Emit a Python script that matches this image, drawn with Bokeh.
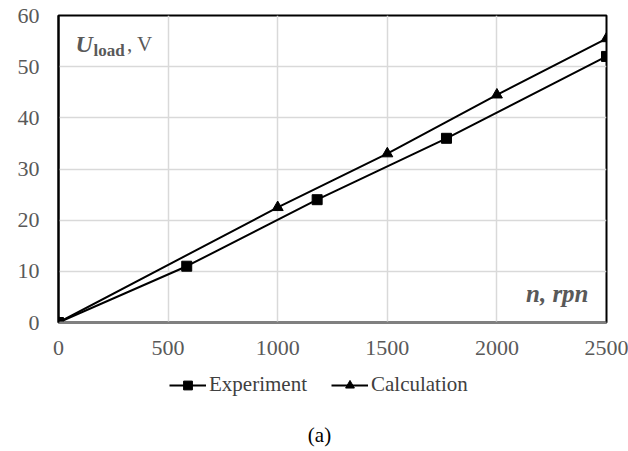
from bokeh.plotting import figure
from bokeh.layouts import column
from bokeh.models import Range1d, Label, Legend, LegendItem, FixedTicker
from bokeh.embed import file_html
from bokeh.resources import INLINE

exp_n = [0, 585, 1180, 1770, 2500]
exp_u = [0, 11, 24, 36, 52]
calc_n = [0, 1000, 1500, 2000, 2500]
calc_u = [0, 22.5, 33, 44.5, 55.5]
x_ticks = [0, 500, 1000, 1500, 2000, 2500]
y_ticks = [0, 10, 20, 30, 40, 50, 60]
series_names = ["Experiment", "Calculation"]

FONT = "Liberation Serif"
GRAY = "#595959"

p = figure(width=628, height=370, output_backend="svg", toolbar_location=None,
           x_range=Range1d(0, 2500), y_range=Range1d(0, 60),
           min_border_left=58, min_border_right=22, min_border_top=15, min_border_bottom=48)
p.outline_line_color = "black"
p.outline_line_width = 2
p.background_fill_color = "white"
p.border_fill_color = "white"

for ax in (p.xaxis[0], p.yaxis[0]):
    ax.major_tick_line_color = None
    ax.minor_tick_line_color = None
    ax.major_label_text_font = FONT
    ax.major_label_text_font_size = "22px"
    ax.major_label_text_color = GRAY
p.yaxis.axis_line_color = "black"
p.yaxis.axis_line_width = 2
p.xaxis.axis_line_color = "#808080"
p.xaxis.axis_line_width = 2
p.xaxis.ticker = FixedTicker(ticks=x_ticks)
p.yaxis.ticker = FixedTicker(ticks=y_ticks)
p.xaxis.major_label_standoff = 12
p.yaxis.major_label_standoff = 13
p.grid.grid_line_color = "#d9d9d9"
p.grid.grid_line_width = 1.5

p.line(exp_n, exp_u, line_color="black", line_width=2)
p.scatter(exp_n, exp_u, marker="square", size=10, color="black")
p.line(calc_n, calc_u, line_color="black", line_width=2)
p.scatter(calc_n, calc_u, marker="triangle", size=11, color="black")

# axis titles inside the frame
p.add_layout(Label(x=78, y=54.5, text="U", text_font=FONT, text_font_style="bold italic",
                   text_font_size="24px", text_color=GRAY, text_baseline="middle"))
p.add_layout(Label(x=160, y=53.1, text="load", text_font=FONT, text_font_style="bold",
                   text_font_size="17px", text_color=GRAY, text_baseline="middle"))
p.add_layout(Label(x=312, y=54.5, text=", V", text_font=FONT, text_font_style="normal",
                   text_font_size="21px", text_color=GRAY, text_baseline="middle"))
p.add_layout(Label(x=2418, y=5.7, text="n, rpn", text_font=FONT, text_font_style="bold italic",
                   text_font_size="25px", text_color=GRAY, text_baseline="middle", text_align="right"))

# legend + caption strip below the chart (its frame is aligned with the chart's frame)
q = figure(width=628, height=81, output_backend="svg", toolbar_location=None,
           x_range=Range1d(0, 548), y_range=Range1d(0, 81),
           x_axis_type=None, y_axis_type=None,
           min_border=0, outline_line_color=None)
q.grid.visible = False
q.background_fill_color = "white"
q.border_fill_color = "white"
ql1 = q.line(exp_n, exp_u, line_color="black", line_width=2, visible=False)
qm1 = q.scatter(exp_n, exp_u, marker="square", size=9, color="black", visible=False)
ql2 = q.line(calc_n, calc_u, line_color="black", line_width=2, visible=False)
qm2 = q.scatter(calc_n, calc_u, marker="triangle", size=9, color="black", visible=False)
legend = Legend(items=[LegendItem(label=series_names[0], renderers=[ql1, qm1]),
                       LegendItem(label=series_names[1], renderers=[ql2, qm2])],
                orientation="horizontal", location=(111, 54),
                label_text_font=FONT, label_text_font_size="21px", label_text_color="#404040",
                glyph_width=37, glyph_height=22, label_height=22, label_standoff=3, spacing=24,
                padding=0, margin=0, background_fill_alpha=0, border_line_color=None,
                inactive_fill_alpha=0)
q.add_layout(legend, "center")
q.add_layout(Label(x=261, y=17, text="(a)", text_font=FONT, text_font_size="21px",
                   text_color="black", text_align="center", text_baseline="middle"))

open("out.html", "w").write(file_html(column(p, q, spacing=0), INLINE))
